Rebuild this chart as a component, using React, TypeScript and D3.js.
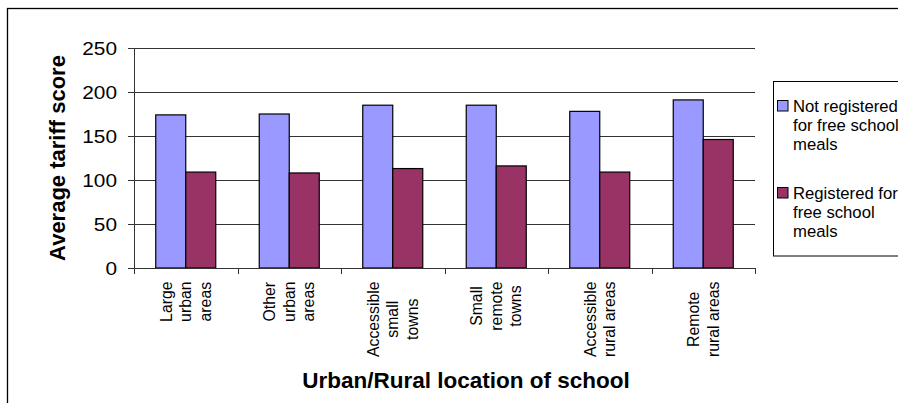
import React from "react";
import * as d3 from "d3";

const categoryLines: string[][] = [
  ["Large", "urban", "areas"],
  ["Other", "urban", "areas"],
  ["Accessible", "small", "towns"],
  ["Small", "remote", "towns"],
  ["Accessible", "rural areas"],
  ["Remote", "rural areas"],
];
const categories = categoryLines.map((l) => l.join(" "));
const seriesNames = ["Not registered for free school meals", "Registered for free school meals"];
const legendLines: string[][] = [
  ["Not registered", "for free school", "meals"],
  ["Registered for", "free school", "meals"],
];
const notRegistered = [174, 175, 185, 185, 178, 191];
const registered = [109, 108, 113, 116, 109, 146];
const yTicks = [0, 50, 100, 150, 200, 250];
const seriesColors = ["#9999FF", "#993366"];

const FONT = "'Liberation Sans', Arial, Helvetica, sans-serif";

let _ctx: CanvasRenderingContext2D | null = null;
function measure(text: string, size: number, weight = "normal"): number {
  if (!_ctx) {
    const c = document.createElement("canvas");
    _ctx = c.getContext("2d");
  }
  if (!_ctx) return text.length * size * 0.5;
  _ctx.font = `${weight} ${size}px 'Liberation Sans', Arial, sans-serif`;
  return _ctx.measureText(text).width;
}

export default function App() {
  const W = 898;
  const H = 403;
  const plotLeft = 134;
  const plotRight = 755;
  const plotTop = 48;
  const plotBottom = 268;

  const x = d3.scaleBand<string>().domain(categories).range([plotLeft, plotRight]).paddingInner(0).paddingOuter(0);
  const y = d3.scaleLinear().domain([0, 250]).range([plotBottom, plotTop]);
  const xs = d3.scaleBand<string>().domain(seriesNames).range([0, x.bandwidth()]).paddingInner(0).paddingOuter(0.725);

  const values = [notRegistered, registered];
  const catFont = 15.8;
  const catLineH = 19.5;
  const labelTop = 281.5;

  const boundaries = categories.map((c) => x(c) as number).concat([plotRight]);

  return (
    <svg width={W} height={H} style={{ position: "absolute", left: 0, top: 0, background: "#fff" }} fontFamily={FONT}>
      <rect x={0} y={0} width={W} height={H} fill="#fff" />
      {/* outer chart border */}
      <rect x={7.5} y={8.5} width={W + 20} height={H + 20} fill="none" stroke="#000" strokeWidth={1.3} />

      {/* gridlines */}
      {yTicks.filter((t) => t > 0).map((t) => (
        <line key={"g" + t} x1={plotLeft} x2={plotRight} y1={Math.round(y(t)) + 0.5} y2={Math.round(y(t)) + 0.5} stroke="#333" strokeWidth={1} />
      ))}

      {/* bars */}
      {seriesNames.map((s, si) =>
        categories.map((c, ci) => {
          const bx = (x(c) as number) + (xs(s) as number);
          const by = y(values[si][ci]);
          return (
            <rect
              key={s + c}
              x={bx}
              y={by}
              width={xs.bandwidth()}
              height={plotBottom - by}
              fill={seriesColors[si]}
              stroke="#000"
              strokeWidth={1.2}
            />
          );
        })
      )}

      {/* y axis */}
      <line x1={plotLeft + 0.5} x2={plotLeft + 0.5} y1={plotTop} y2={plotBottom} stroke="#333" strokeWidth={1} />
      {yTicks.map((t) => {
        const ty = Math.round(y(t)) + 0.5;
        return (
          <g key={"yt" + t}>
            <line x1={plotLeft - 6} x2={plotLeft} y1={ty} y2={ty} stroke="#333" strokeWidth={1} />
            <text
              transform={`translate(117,${ty + 6.6}) scale(1.12,1)`}
              textAnchor="end"
              fontSize={18.6}
              fill="#000"
            >
              {t}
            </text>
          </g>
        );
      })}

      {/* x axis */}
      <line x1={plotLeft} x2={plotRight + 0.5} y1={plotBottom + 0.5} y2={plotBottom + 0.5} stroke="#333" strokeWidth={1} />
      {boundaries.map((bx, i) => (
        <line key={"xt" + i} x1={Math.round(bx) + 0.5} x2={Math.round(bx) + 0.5} y1={plotBottom} y2={plotBottom + 6} stroke="#333" strokeWidth={1} />
      ))}

      {/* category labels */}
      {categoryLines.map((lines, ci) => {
        const cx = (x(categories[ci]) as number) + x.bandwidth() / 2;
        const maxLen = Math.max(...lines.map((l) => measure(l, catFont)));
        const cy = labelTop + maxLen / 2;
        const n = lines.length;
        return (
          <g key={"cl" + ci}>
            {lines.map((l, li) => {
              const bx = cx + (li - (n - 1) / 2) * catLineH + 5.5;
              return (
                <text
                  key={li}
                  transform={`translate(${bx},${cy}) rotate(-90)`}
                  textAnchor="middle"
                  fontSize={catFont}
                  fill="#000"
                >
                  {l}
                </text>
              );
            })}
          </g>
        );
      })}

      {/* axis titles */}
      <text
        transform={`translate(65,${(plotTop + plotBottom) / 2}) rotate(-90)`}
        textAnchor="middle"
        fontSize={22}
        fontWeight="bold"
        fill="#000"
      >
        Average tariff score
      </text>
      <text x={466} y={388} textAnchor="middle" fontSize={22.5} fontWeight="bold" fill="#000">
        Urban/Rural location of school
      </text>

      {/* legend */}
      <rect x={773.5} y={81.5} width={160} height={174.5} fill="#fff" stroke="#000" strokeWidth={1} />
      {legendLines.map((lines, si) => {
        const baseY = si === 0 ? 112 : 199;
        return (
          <g key={"lg" + si}>
            <rect x={777.5} y={baseY - 11.5} width={10.5} height={10.5} fill={seriesColors[si]} stroke="#000" strokeWidth={1} />
            {lines.map((l, li) => (
              <text key={li} x={793} y={baseY + li * 19} fontSize={16.7} fill="#000">
                {l}
              </text>
            ))}
          </g>
        );
      })}
    </svg>
  );
}
